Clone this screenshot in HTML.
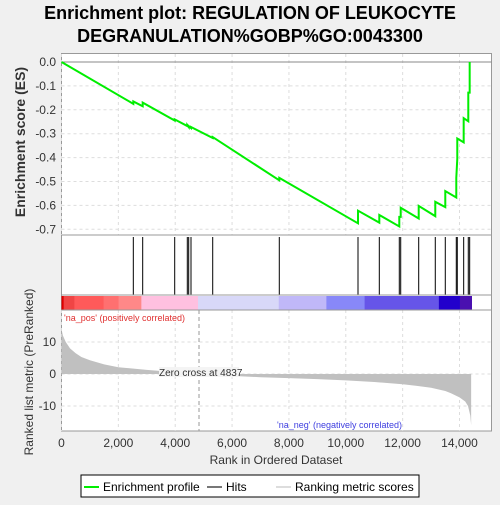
<!DOCTYPE html>
<html><head><meta charset="utf-8"><style>
body{margin:0;background:#f0f0f0;font-family:"Liberation Sans",sans-serif}
svg text{font-family:"Liberation Sans",sans-serif}
</style></head><body>
<svg id="c" width="500" height="500" xmlns="http://www.w3.org/2000/svg">
<rect width="500" height="500" fill="#f0f0f0"/>
<text x="250" y="19" text-anchor="middle" font-size="18" font-weight="bold" fill="#000">Enrichment plot: REGULATION OF LEUKOCYTE</text>
<text x="250" y="42" text-anchor="middle" font-size="18" font-weight="bold" fill="#000">DEGRANULATION%GOBP%GO:0043300</text>
<rect x="61.5" y="53.5" width="430" height="377.5" fill="#fff" stroke="#999"/>
<g id="grid"></g>
<g id="colorbar"></g>
<g id="metric"></g>
<g id="hits"></g>
<g id="es"></g>
<g id="axes"></g>
<text transform="translate(25,142) rotate(-90)" text-anchor="middle" font-size="14" font-weight="bold" fill="#333">Enrichment score (ES)</text>
<text transform="translate(33,372) rotate(-90)" text-anchor="middle" font-size="12" fill="#333">Ranked list metric (PreRanked)</text>
<text x="276" y="464" text-anchor="middle" font-size="12" fill="#333">Rank in Ordered Dataset</text>
<text x="64" y="321" font-size="9" fill="#e03030">'na_pos' (positively correlated)</text>
<text x="277" y="428" font-size="9" fill="#4040e0">'na_neg' (negatively correlated)</text>
<g>
<rect x="81" y="475" width="338" height="22" fill="#fff" stroke="#000"/>
<line x1="84" y1="487" x2="99" y2="487" stroke="#00ee00" stroke-width="2"/>
<text x="103" y="491" font-size="12" fill="#000">Enrichment profile</text>
<line x1="207" y1="487" x2="222" y2="487" stroke="#777" stroke-width="2"/>
<text x="226" y="491" font-size="12" fill="#000">Hits</text>
<line x1="276" y1="487" x2="291" y2="487" stroke="#ddd" stroke-width="2"/>
<text x="295" y="491" font-size="12" fill="#000">Ranking metric scores</text>
</g>
</svg>
<script>
const hitRanks=[2526,2856,3982,4425,4474,4555,5319,7661,10430,11179,11882,11932,12565,13148,13500,13887,13922,14147,14309,14358];
const esBefore=[-0.175,-0.185,-0.245,-0.268,-0.272,-0.276,-0.318,-0.495,-0.675,-0.672,-0.688,-0.648,-0.655,-0.645,-0.607,-0.567,-0.405,-0.336,-0.248,-0.128];
const esAfter=[-0.165,-0.17,-0.24,-0.264,-0.268,-0.272,-0.314,-0.485,-0.622,-0.64,-0.648,-0.61,-0.602,-0.585,-0.54,-0.485,-0.32,-0.235,-0.128,0.0];
const metricRanks=[0,50,150,300,500,700,1000,1500,2000,3000,4000,4837,6000,7000,8000,9000,10000,11000,12000,12500,13000,13500,13700,14000,14200,14300,14380,14410];
const metricValues=[14,12,10,8,6.5,5.3,4.3,3,2.1,1.3,0.6,0,-0.6,-1,-1.3,-1.6,-2,-2.5,-3.2,-3.7,-4.3,-5.3,-6,-7.3,-8.6,-10,-13,-16];
const esTicks=[0,-0.1,-0.2,-0.3,-0.4,-0.5,-0.6,-0.7];
const metricTicks=[10,0,-10];
const xTicks=[0,2000,4000,6000,8000,10000,12000,14000];
const xTickLabels=["0","2,000","4,000","6,000","8,000","10,000","12,000","14,000"];
const NS="http://www.w3.org/2000/svg";
const X=r=>61.5+r*398/14000;
const Yes=v=>62-v*239;
const Ym=v=>374-v*3.2;
function mk(parent,tag,attrs){const e=document.createElementNS(NS,tag);for(const k in attrs)e.setAttribute(k,attrs[k]);document.getElementById(parent).appendChild(e);return e;}
xTicks.forEach(t=>{
 let g=mk('grid','line',{x1:X(t),x2:X(t),y1:54,y2:235,stroke:'#ddd','stroke-dasharray':'3,3'});
 
 
 let g2=mk('grid','line',{x1:X(t),x2:X(t),y1:310,y2:431,stroke:'#ddd','stroke-dasharray':'3,3'});
 
 
});
esTicks.forEach(t=>{
 let g=mk('grid','line',{x1:61.5,x2:491.5,y1:Yes(t),y2:Yes(t),stroke:t===0?'#888':'#ddd','stroke-dasharray':t===0?'':'3,3'});
 
 
 let l=mk('axes','text',{x:56,y:Yes(t)+4,'text-anchor':'end','font-size':12,fill:'#333'});
 l.textContent=t.toFixed(1);
 
 
});
metricTicks.forEach(t=>{
 let g=mk('grid','line',{x1:61.5,x2:491.5,y1:Ym(t),y2:Ym(t),stroke:'#ddd','stroke-dasharray':'3,3'});
 
 
 let l=mk('axes','text',{x:56,y:Ym(t)+4,'text-anchor':'end','font-size':12,fill:'#333'});
 l.textContent=t;
 
 
});
xTicks.forEach((t,i)=>{
 let l=mk('axes','text',{x:X(t),y:447,'text-anchor':'middle','font-size':12,fill:'#333'});
 l.textContent=xTickLabels[i];
 
 
});
[235,295,310].forEach(y=>{
 let s=mk('axes','line',{x1:61.5,x2:491.5,y1:y,y2:y,stroke:'#999'});
 
 
});
const cb=[[0,0.005,'#dd0000'],[0.005,0.03,'#f04545'],[0.03,0.098,'#ff5a5a'],[0.098,0.133,'#ff7070'],[0.133,0.186,'#ff8888'],[0.186,0.318,'#ffc0e0'],[0.318,0.506,'#d8d8f8'],[0.506,0.617,'#c0b8f8'],[0.617,0.706,'#8888f8'],[0.706,0.879,'#6655e8'],[0.879,0.928,'#2200cc'],[0.928,0.955,'#4a10b0']];
const x0=61.5,wtot=(1415-185)/3/0.955;
cb.forEach(s=>{
 let r=mk('colorbar','rect',{x:x0+s[0]*wtot,y:296,width:(s[1]-s[0])*wtot+0.5,height:14,fill:s[2]});
 
 
});
let pts=[X(0)+','+Ym(0)];
metricRanks.forEach((r,i)=>pts.push(X(r)+','+Ym(metricValues[i])));
pts.push(X(metricRanks[metricRanks.length-1])+','+Ym(0));
let area=mk('metric','polygon',{points:pts.join(' '),fill:'#c0c0c0'});


let zl=mk('metric','line',{x1:X(4837),x2:X(4837),y1:310,y2:431,stroke:'#999','stroke-dasharray':'4,3'});


let zb=mk('metric','rect',{x:X(4837)-40,y:367,width:80,height:10,fill:'#f4f4f4'});


let zt=mk('metric','text',{x:X(4837)-40,y:376,'font-size':10,fill:'#333'});
zt.textContent='Zero cross at 4837';


hitRanks.forEach(r=>{
 let h=mk('hits','line',{x1:X(r),x2:X(r),y1:237,y2:295,stroke:'#000','stroke-width':1});
 
 
});
let d='M'+X(0)+','+Yes(0);
hitRanks.forEach((r,i)=>{d+=' L'+X(r)+','+Yes(esBefore[i])+' L'+X(r)+','+Yes(esAfter[i]);});
let es=mk('es','path',{d:d,fill:'none',stroke:'#00ee00','stroke-width':2});


</script>
</body></html>
